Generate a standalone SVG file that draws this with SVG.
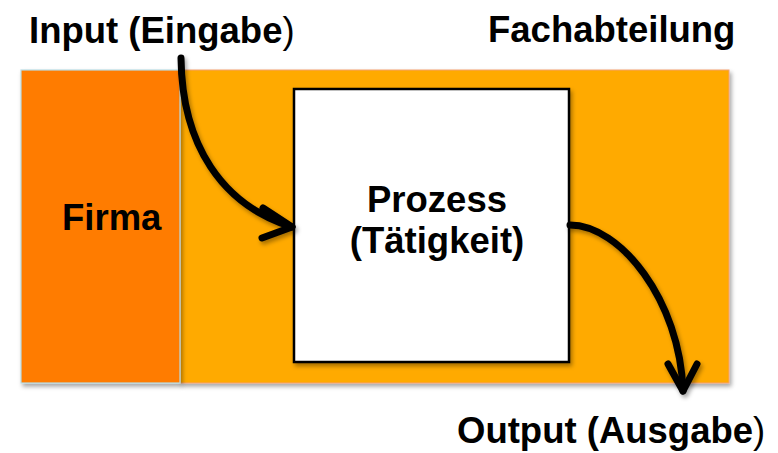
<svg xmlns="http://www.w3.org/2000/svg" width="778" height="453" viewBox="0 0 778 453">
<defs>
<filter id="sh" x="-10%" y="-10%" width="130%" height="130%">
<feDropShadow dx="2" dy="3" stdDeviation="2" flood-color="#000" flood-opacity="0.35"/>
</filter>
</defs>
<style>
text{font-family:"Liberation Sans",Arial,sans-serif;font-weight:bold;font-size:36.5px;fill:#000}
.thin{font-weight:normal}
.arrow{fill:none;stroke:#000;stroke-width:7;stroke-linecap:round;stroke-linejoin:round}
</style>
<rect width="778" height="453" fill="#fff"/>
<g id="fachabteilung">
<rect x="180" y="70" width="549" height="313" fill="#FFAA00" stroke="#F4A070" stroke-width="1" filter="url(#sh)"/>
<text x="488" y="42">Fachabteilung</text>
</g>
<g id="firma">
<rect x="21" y="70" width="159" height="313" fill="#FF7C00" stroke="#B8DCE4" stroke-width="1.2" filter="url(#sh)"/>
<text x="62" y="230">Firma</text>
</g>
<g id="prozess">
<rect x="294" y="89" width="275" height="273" fill="#fff" stroke="#000" stroke-width="2.5" filter="url(#sh)"/>
<text x="437" y="212" text-anchor="middle">Prozess</text>
<text x="437" y="253" text-anchor="middle">(Tätigkeit)</text>
</g>
<g id="input-label">
<text x="29" y="43">Input (Eingabe<tspan class="thin">)</tspan></text>
</g>
<g id="output-label">
<text x="457" y="443">Output (Ausgabe<tspan class="thin">)</tspan></text>
</g>
<g id="connectors" filter="url(#sh)">
<path class="arrow" d="M181,58 C182,145 222,205 292,227"/>
<path class="arrow" d="M263,208 L292,227 L262,238"/>
<path class="arrow" d="M570,225 C620,225 680,300 683,391"/>
<path class="arrow" d="M668,364 L683,391 L697,364"/>
</g>
</svg>
